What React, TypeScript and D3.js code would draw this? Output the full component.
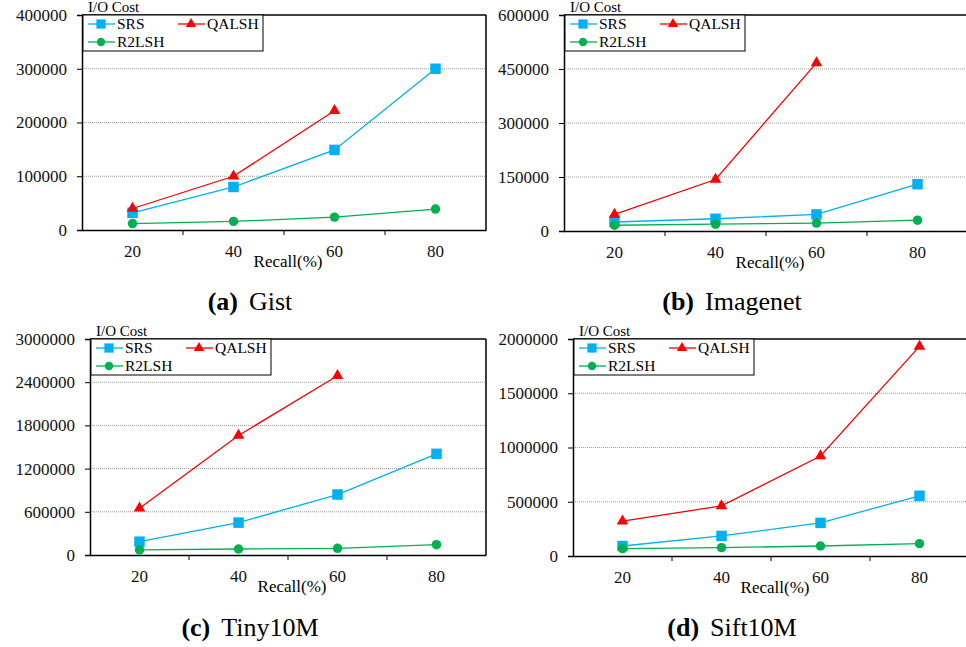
import React, { useEffect, useRef } from 'react';
import * as d3 from 'd3';

// recall levels on the x axis
const recall = [20, 40, 60, 80];

const seriesNames = ['SRS', 'QALSH', 'R2LSH'];
const seriesColors = ['#00B0F0', '#FF0000', '#00B050'];
const seriesSymbols = [d3.symbolSquare, d3.symbolTriangle, d3.symbolCircle];

// (a) Gist
const gistSRS = [32000, 80000, 149000, 300000];
const gistQALSH = [40000, 100000, 222000];
const gistR2LSH = [12000, 16000, 24000, 39000];
const gistTicks = [0, 100000, 200000, 300000, 400000];

// (b) Imagenet
const imagenetSRS = [25000, 34000, 46000, 130000];
const imagenetQALSH = [46000, 143000, 467000];
const imagenetR2LSH = [16000, 19000, 22000, 30000];
const imagenetTicks = [0, 150000, 300000, 450000, 600000];

// (c) Tiny10M
const tinySRS = [185000, 450000, 840000, 1405000];
const tinyQALSH = [650000, 1660000, 2490000];
const tinyR2LSH = [70000, 83000, 93000, 143000];
const tinyTicks = [0, 600000, 1200000, 1800000, 2400000, 3000000];

// (d) Sift10M
const siftSRS = [92000, 185000, 305000, 555000];
const siftQALSH = [321000, 462000, 922000, 1932000];
const siftR2LSH = [68000, 77000, 92000, 114000];
const siftTicks = [0, 500000, 1000000, 1500000, 2000000];

const panels = [
    { tag: '(a)', name: 'Gist', series: [gistSRS, gistQALSH, gistR2LSH], ticks: gistTicks,
      left: 82, top: 15, right: 486, bottom: 230, capX: 250, capY: 310 },
    { tag: '(b)', name: 'Imagenet', series: [imagenetSRS, imagenetQALSH, imagenetR2LSH], ticks: imagenetTicks,
      left: 564, top: 15, right: 968, bottom: 231, capX: 732, capY: 310 },
    { tag: '(c)', name: 'Tiny10M', series: [tinySRS, tinyQALSH, tinyR2LSH], ticks: tinyTicks,
      left: 90, top: 339, right: 486, bottom: 555, capX: 250, capY: 636 },
    { tag: '(d)', name: 'Sift10M', series: [siftSRS, siftQALSH, siftR2LSH], ticks: siftTicks,
      left: 573, top: 339, right: 969, bottom: 556, capX: 732, capY: 636 },
];

const FONT = 'Liberation Serif';

function App() {
    const svgRef = useRef<SVGSVGElement>(null);

    useEffect(() => {
        document.body.style.margin = '0';
        const svg = d3.select(svgRef.current);
        svg.selectAll('*').remove();

        panels.forEach(p => {
            const g = svg.append('g');

            const x = d3.scaleBand<number>()
                .domain(recall)
                .range([p.left, p.right]);

            const y = d3.scaleLinear()
                .domain([0, p.ticks[p.ticks.length - 1]])
                .range([p.bottom, p.top]);

            // dotted grid lines
            g.selectAll('.grid')
                .data(p.ticks.slice(1, -1))
                .enter()
                .append('line')
                .attr('x1', p.left)
                .attr('x2', p.right)
                .attr('y1', d => y(d))
                .attr('y2', d => y(d))
                .attr('stroke', '#999')
                .attr('stroke-width', 1)
                .attr('stroke-dasharray', '1,1');

            // frame: top and right
            g.append('line')
                .attr('x1', p.left).attr('x2', p.right)
                .attr('y1', p.top).attr('y2', p.top)
                .attr('stroke', '#000').attr('stroke-width', 1.5);
            g.append('line')
                .attr('x1', p.right).attr('x2', p.right)
                .attr('y1', p.top).attr('y2', p.bottom)
                .attr('stroke', '#000').attr('stroke-width', 1.5);

            // Y axis
            const yAxis = g.append('g')
                .attr('transform', `translate(${p.left},0)`)
                .call(d3.axisLeft(y).tickValues(p.ticks).tickSize(5).tickPadding(10).tickFormat(d3.format('d')));
            yAxis.attr('font-family', FONT).attr('font-size', 17);
            yAxis.selectAll('text').attr('fill', '#111');

            // X axis, ticks on band edges
            const xAxis = g.append('g')
                .attr('transform', `translate(0,${p.bottom})`)
                .call(d3.axisBottom(x).tickSize(0).tickPadding(15));
            xAxis.attr('font-family', FONT).attr('font-size', 17);
            xAxis.selectAll('text').attr('fill', '#111');
            xAxis.selectAll('.edge')
                .data(recall.slice(1))
                .enter()
                .append('line')
                .attr('x1', d => x(d)!)
                .attr('x2', d => x(d)!)
                .attr('y1', 0)
                .attr('y2', 5)
                .attr('stroke', '#000');
            svg.selectAll('.domain').attr('stroke-width', 1.5);

            g.append('text')
                .attr('x', (p.left + p.right) / 2 + 4)
                .attr('y', p.bottom + 37)
                .attr('text-anchor', 'middle')
                .attr('font-family', FONT)
                .attr('font-size', 17)
                .text('Recall(%)');

            g.append('text')
                .attr('x', p.left + 6)
                .attr('y', p.top - 3)
                .attr('font-family', FONT)
                .attr('font-size', 15)
                .text('I/O Cost');

            // series lines and markers
            p.series.forEach((vals, si) => {
                const pts = vals.map((v, i) => [x(recall[i])! + x.bandwidth() / 2, y(v)] as [number, number]);
                g.append('path')
                    .attr('d', d3.line()(pts))
                    .attr('fill', 'none')
                    .attr('stroke', seriesColors[si])
                    .attr('stroke-width', 1.3);
                const size = si === 0 ? 110 : si === 1 ? 58 : 70;
                g.selectAll(`.m${si}`)
                    .data(pts)
                    .enter()
                    .append('path')
                    .attr('transform', d => `translate(${d[0]},${d[1]})`)
                    .attr('d', d3.symbol().type(seriesSymbols[si]).size(size)())
                    .attr('fill', seriesColors[si]);
            });

            // legend
            const bx = p.left + 1;
            const by = p.top;
            g.append('rect')
                .attr('x', bx).attr('y', by)
                .attr('width', 180).attr('height', 36)
                .attr('fill', '#fff')
                .attr('stroke', '#000')
                .attr('stroke-width', 1);
            const legendPos = [[bx + 5, by + 9], [bx + 95, by + 9], [bx + 5, by + 27]];
            seriesNames.forEach((name, si) => {
                const [lx, ly] = legendPos[si];
                g.append('line')
                    .attr('x1', lx).attr('x2', lx + 27)
                    .attr('y1', ly).attr('y2', ly)
                    .attr('stroke', seriesColors[si])
                    .attr('stroke-width', 1.3);
                const size = si === 0 ? 85 : si === 1 ? 48 : 55;
                g.append('path')
                    .attr('transform', `translate(${lx + 13},${ly})`)
                    .attr('d', d3.symbol().type(seriesSymbols[si]).size(size)())
                    .attr('fill', seriesColors[si]);
                g.append('text')
                    .attr('x', lx + 29)
                    .attr('y', ly + 5)
                    .attr('font-family', FONT)
                    .attr('font-size', 15.5)
                    .text(name);
            });

            // caption
            const cap = g.append('text')
                .attr('x', p.capX)
                .attr('y', p.capY)
                .attr('text-anchor', 'middle')
                .attr('font-family', FONT)
                .attr('font-size', 26);
            cap.append('tspan').attr('font-weight', 'bold').text(p.tag);
            cap.append('tspan').attr('dx', 11).text(p.name);
        });
    }, []);

    return <svg ref={svgRef} width={966} height={647} style={{ display: 'block', background: '#fff' }}></svg>;
}

export default App;
